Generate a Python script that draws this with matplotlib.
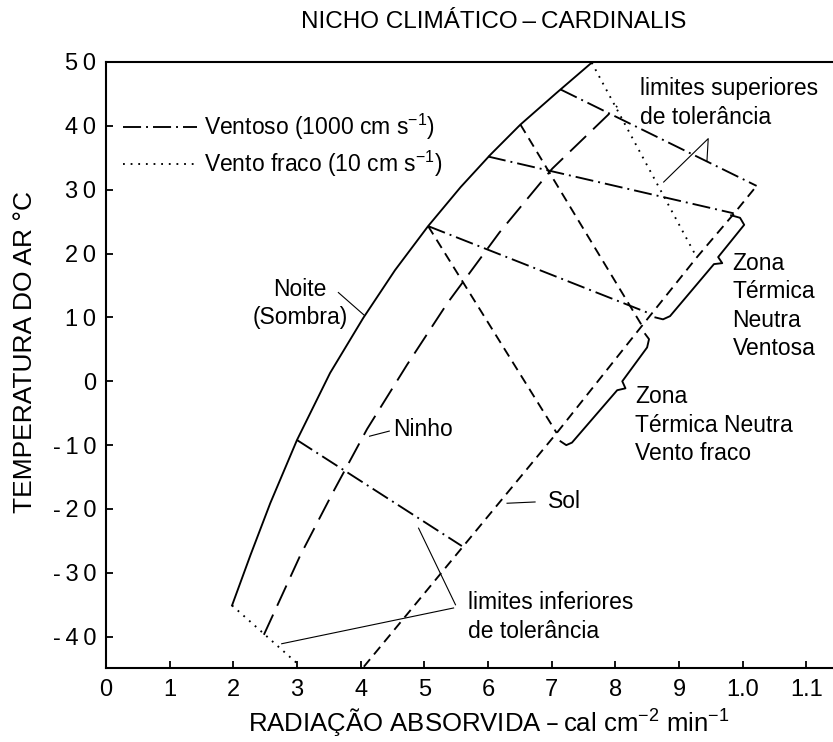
import matplotlib
matplotlib.use("Agg")
import numpy as np
import matplotlib.pyplot as plt

plt.rcParams['font.family'] = ['Liberation Sans', 'DejaVu Sans']
plt.rcParams['mathtext.default'] = 'regular'
plt.rcParams['lines.scale_dashes'] = False

# --- data (x in cal cm-2 min-1, y in deg C) ---
# Noite (sombra), solid curve
noite_x = [0.198, 0.227, 0.258, 0.300, 0.352, 0.404, 0.454, 0.506,
           0.557, 0.604, 0.651, 0.707, 0.763]
noite_y = [-35.1, -27.2, -19.1, -9.2, 1.3, 9.9, 17.4, 24.3,
           30.4, 35.5, 40.2, 45.1, 49.9]
# Ninho, long dashes
ninho_x = [0.248, 0.305, 0.357, 0.410, 0.473, 0.536, 0.618, 0.701, 0.803]
ninho_y = [-39.7, -27.3, -17.3, -7.5, 2.6, 12.2, 23.3, 33.3, 43.1]
# Sol, short dashes
sol_x = [0.405, 0.708, 0.842, 0.928, 0.986, 1.022]
sol_y = [-44.7, -8.1, 8.7, 19.4, 26.2, 30.6]

# Ventoso (1000 cm/s) lines, dash-dot
ventoso_x = [[0.714, 1.022], [0.600, 0.986], [0.506, 0.857], [0.300, 0.559]]
ventoso_y = [[45.7, 30.6], [35.2, 26.3], [24.3, 10.5], [-9.2, -25.8]]
# Vento fraco (10 cm/s) lines, short dashes
fraco_x = [[0.506, 0.708], [0.651, 0.842]]
fraco_y = [[24.3, -8.1], [40.2, 8.7]]
# tolerance limits, dotted
limite_x = [[0.763, 0.928], [0.198, 0.305]]
limite_y = [[49.9, 19.4], [-35.1, -44.6]]

# braces marking the thermal neutral zones
brace_ventosa_x = [0.982, 0.996, 1.0025, 0.9616, 0.968, 0.955, 0.886, 0.875, 0.863]
brace_ventosa_y = [26.0, 25.6, 24.5, 19.45, 18.5, 18.35, 10.2, 9.7, 10.0]
brace_fraco_x = [0.847, 0.853, 0.850, 0.811, 0.816, 0.803, 0.732, 0.723, 0.714]
brace_fraco_y = [7.4, 6.6, 5.3, 0.0, -1.1, -1.4, -9.6, -10.0, -9.4]

# leader lines from labels
leaders = {
    'noite': ([0.365, 0.405], [13.9, 10.4]),
    'ninho': ([0.414, 0.445], [-8.6, -7.8]),
    'sol': ([0.630, 0.674], [-19.1, -18.9]),
    'sup': ([0.876, 0.946, 0.944], [31.2, 38.0, 34.5]),
    'inf1': ([0.491, 0.549], [-23.0, -35.0]),
    'inf2': ([0.546, 0.276], [-35.5, -41.1]),
}

xticks = np.arange(0, 12) / 10
xticklabels = ['0', '1', '2', '3', '4', '5', '6', '7', '8', '9', '1.0', '1.1']
yticks = np.arange(-40, 51, 10)
yticklabels = ['\u2009'.join(str(v)) for v in yticks]

# --- figure ---
fig = plt.figure(figsize=(8.33, 7.42), dpi=100)
ax = fig.add_axes([106 / 833, 74 / 742, 727 / 833, 606 / 742])

lw = 1.35
dashdot = (0, (13, 3.6, 1.4, 3.6))
short_dash = (0, (7, 4.5))
long_dash = (0, (16, 7))
dotted = (0, (1.3, 4.2))

ax.plot(noite_x, noite_y, color='k', lw=lw)
ax.plot(ninho_x, ninho_y, color='k', lw=lw, ls=long_dash)
ax.plot(sol_x, sol_y, color='k', lw=lw, ls=short_dash)
vent_lines = []
for xs, ys in zip(ventoso_x, ventoso_y):
    vent_lines += ax.plot(xs, ys, color='k', lw=lw, ls=dashdot)
for xs, ys in zip(fraco_x, fraco_y):
    ax.plot(xs, ys, color='k', lw=lw, ls=short_dash)
lim_lines = []
for xs, ys in zip(limite_x, limite_y):
    lim_lines += ax.plot(xs, ys, color='k', lw=lw, ls=dotted)

ax.plot(brace_ventosa_x, brace_ventosa_y, color='k', lw=lw,
        solid_joinstyle='round')
ax.plot(brace_fraco_x, brace_fraco_y, color='k', lw=lw,
        solid_joinstyle='round')
for xs, ys in leaders.values():
    ax.plot(xs, ys, color='k', lw=0.8)

# labels on the plot
fs = 16.5
ax.text(0.305, 12.2, 'Noite\n(Sombra)', ha='center', va='center',
        fontsize=fs, linespacing=1.25)
ax.text(0.451, -7.5, 'Ninho', ha='left', va='center', fontsize=fs)
ax.text(0.695, -18.8, 'Sol', ha='left', va='center', fontsize=fs)
ax.text(0.984, 11.8, 'Zona\nTérmica\nNeutra\nVentosa', ha='left',
        va='center', fontsize=fs, linespacing=1.3)
ax.text(0.831, -6.9, 'Zona\nTérmica Neutra\nVento fraco', ha='left',
        va='center', fontsize=fs, linespacing=1.3)
ax.text(0.839, 43.6, 'limites superiores\nde tolerância', ha='left',
        va='center', fontsize=fs, linespacing=1.3)
ax.text(0.569, -36.9, 'limites inferiores\nde tolerância', ha='left',
        va='center', fontsize=fs, linespacing=1.3)

ax.legend([vent_lines[0], lim_lines[0]],
          ['Ventoso (1000 cm s$^{-1}$)', 'Vento fraco (10 cm s$^{-1}$)'],
          loc='upper left', bbox_to_anchor=(0.024, 0.918), frameon=False,
          fontsize=fs, handlelength=3.2, handletextpad=0.3,
          labelspacing=0.3, borderpad=0, borderaxespad=0)

ax.set_xlim(0, 1.142)
ax.set_ylim(-44.9, 50)
ax.set_xticks(xticks)
ax.set_xticklabels(xticklabels)
ax.set_yticks(yticks)
ax.set_yticklabels(yticklabels)
ax.tick_params(direction='in', length=5, width=1.3, labelsize=17)
ax.tick_params(axis='x', pad=8)
ax.tick_params(axis='y', pad=7)
for side in ['left', 'top', 'bottom']:
    ax.spines[side].set_linewidth(1.5)
ax.spines['right'].set_visible(False)

ax.set_xlabel('RADIAÇÃO ABSORVIDA\u2009–\u2009cal cm$^{-2}$ min$^{-1}$',
              fontsize=18.5)
ax.xaxis.set_label_coords((489 - 106) / 727, (668 - 722) / 606)
ax.xaxis.label.set_va('center')
ax.set_ylabel('TEMPERATURA DO AR °C', fontsize=19)
ax.yaxis.set_label_coords((25 - 106) / 727, (668 - 352) / 606)
ax.yaxis.label.set_va('center')

fig.text(494 / 833, 1 - 22 / 742, 'NICHO CLIMÁTICO\u2009–\u2009CARDINALIS',
         ha='center', va='center', fontsize=17.5)

fig.savefig('out.png', dpi=100)
